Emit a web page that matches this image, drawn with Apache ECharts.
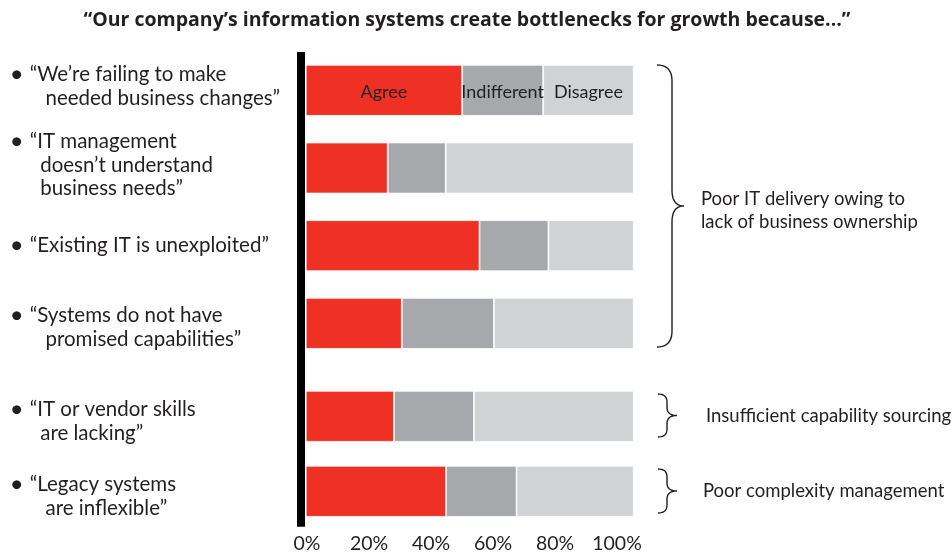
<!DOCTYPE html>
<html>
<head>
<meta charset="utf-8">
<script src="https://cdn.jsdelivr.net/npm/echarts@6/dist/echarts.min.js"></script>
<style>
  html, body { margin: 0; padding: 0; background: #fff; }
  #chart { width: 952px; height: 556px; }
</style>
</head>
<body>
<div id="chart"></div>
<script>
// survey statements (top block = first 4, bottom block = last 2)
const categories = [
  "“We’re failing to make\n   needed business changes”",
  "“IT management\n  doesn’t understand\n  business needs”",
  "“Existing IT is unexploited”",
  "“Systems do not have\n   promised capabilities”",
  "“IT or vendor skills\n  are lacking”",
  "“Legacy systems\n   are inflexible”"
];
const agree       = [47.7, 25.0, 53.0, 29.3, 26.9, 42.8];
const indifferent = [24.7, 17.7, 21.0, 28.1, 24.4, 21.5];
const disagree    = [27.6, 57.3, 26.0, 42.6, 48.7, 35.7];
const seriesNames = ["Agree", "Indifferent", "Disagree"];
const xTicks = [0, 20, 40, 60, 80, 100];
const groupLabels = [
  "Poor IT delivery owing to\nlack of business ownership",
  "Insufficient capability sourcing",
  "Poor complexity management"
];

const FONT = "Lato";
const TXT = "#231f20";
const colors = ["#ee3124", "#a7a8ab", "#d1d2d4"];
const values = [agree, indifferent, disagree];

// small nudges so the text blocks sit like the original
const labelShift = [-4, -3, 0, 4, 5, 5];

const fmtLabel = (v) => {
  const lines = v.split("\n");
  return lines.map((l, i) => (i === 0 ? "{b|•}" : "{b| }") + "{t|" + l + "}").join("\n");
};

const catData = (from, to) => categories.slice(from, to).map((c, i) => {
  const s = labelShift[from + i];
  return {
    value: c,
    textStyle: { align: "left", padding: s < 0 ? [0, 0, -2 * s, 0] : [2 * s, 0, 0, 0] }
  };
});

const yCat = (gi, from, to) => ({
  type: "category", gridIndex: gi, inverse: true,
  data: catData(from, to),
  axisLine: { show: false }, axisTick: { show: false },
  axisLabel: {
    align: "left", margin: 296, formatter: fmtLabel,
    rich: {
      b: { width: 20, fontSize: 24, fontFamily: FONT, color: TXT, lineHeight: 23.5 },
      t: { fontSize: 20.5, fontFamily: FONT, color: TXT, lineHeight: 23.5 }
    }
  }
});

const xVal = (gi) => ({
  type: "value", gridIndex: gi, min: 0, max: 100, show: false
});

const makeSeries = (gi, from, to) => seriesNames.map((name, k) => ({
  name, type: "bar", stack: "g" + gi, xAxisIndex: gi, yAxisIndex: gi,
  barWidth: 51,
  itemStyle: { color: colors[k], borderColor: "#fff", borderWidth: 0.8 },
  data: values[k].slice(from, to).map((v, i) => ({
    value: v,
    label: (gi === 0 && i === 0) ? {
      show: true, position: "inside", formatter: name,
      fontFamily: FONT, fontSize: 18, color: TXT, offset: [0, 2]
    } : { show: false }
  }))
}));

// curly brace outline, sampled quadratic curves
const quad = (p0, c, p1, pts) => {
  for (let t = 0.1; t <= 1.001; t += 0.1) {
    const u = 1 - t;
    pts.push([u * u * p0[0] + 2 * u * t * c[0] + t * t * p1[0],
              u * u * p0[1] + 2 * u * t * c[1] + t * t * p1[1]]);
  }
};
const brace = (x0, y0, y1, xl, xt, r) => {
  const ym = (y0 + y1) / 2;
  const pts = [[x0, y0]];
  quad([x0, y0], [xl, y0], [xl, y0 + r], pts);
  pts.push([xl, ym - r]);
  quad([xl, ym - r], [xl, ym], [xt, ym], pts);
  quad([xt, ym], [xl, ym], [xl, ym + r], pts);
  pts.push([xl, y1 - r]);
  quad([xl, y1 - r], [xl, y1], [x0, y1], pts);
  return {
    type: "polyline", shape: { points: pts },
    style: { fill: null, stroke: "#231f20", lineWidth: 1.4 }
  };
};

const chart = echarts.init(document.getElementById("chart"));
chart.setOption({
  animation: false,
  backgroundColor: "#fff",
  title: {
    text: "“Our company’s information systems create bottlenecks for growth because...”",
    left: 462, top: 5, textAlign: "center",
    textStyle: { fontFamily: "Open Sans", fontSize: 19.5, fontWeight: "bold", color: TXT }
  },
  grid: [
    { left: 305.7, width: 328, top: 51.5, height: 310.7, outerBoundsMode: "none" },
    { left: 305.7, width: 328, top: 378.8, height: 150, outerBoundsMode: "none" },
    { left: 301, width: 310, top: 52, height: 474.7, outerBoundsMode: "none" },
    { left: 307, width: 310, top: 52, height: 474.7, outerBoundsMode: "none" }
  ],
  xAxis: [
    xVal(0), xVal(1), xVal(2),
    {
      type: "value", gridIndex: 3, min: 0, max: 100, interval: 20,
      axisLine: { show: false }, axisTick: { show: false }, splitLine: { show: false },
      axisLabel: {
        margin: 7, fontFamily: FONT, fontSize: 19.5, color: TXT,
        formatter: (v) => xTicks.includes(v) ? v + "%" : ""
      }
    }
  ],
  yAxis: [
    yCat(0, 0, 4), yCat(1, 4, 6),
    {
      type: "value", gridIndex: 2, min: 0, max: 1,
      axisLine: { show: true, lineStyle: { color: "#000", width: 8, cap: "butt" } },
      axisTick: { show: false }, axisLabel: { show: false }, splitLine: { show: false }
    },
    { type: "value", gridIndex: 3, min: 0, max: 1, show: false }
  ],
  series: [...makeSeries(0, 0, 4), ...makeSeries(1, 4, 6)],
  graphic: [
    brace(657, 65, 347, 672, 684, 16),
    brace(658, 394, 437, 667, 677, 8),
    brace(658, 469, 513, 667, 677, 8),
    { type: "text", left: 701, top: 188,
      style: { text: groupLabels[0], fontFamily: FONT, fontSize: 18.5, lineHeight: 23, fill: TXT } },
    { type: "text", left: 706, top: 405,
      style: { text: groupLabels[1], fontFamily: FONT, fontSize: 18.5, lineHeight: 22, fill: TXT } },
    { type: "text", left: 703, top: 480,
      style: { text: groupLabels[2], fontFamily: FONT, fontSize: 18.5, lineHeight: 22, fill: TXT } }
  ]
});
</script>
</body>
</html>
